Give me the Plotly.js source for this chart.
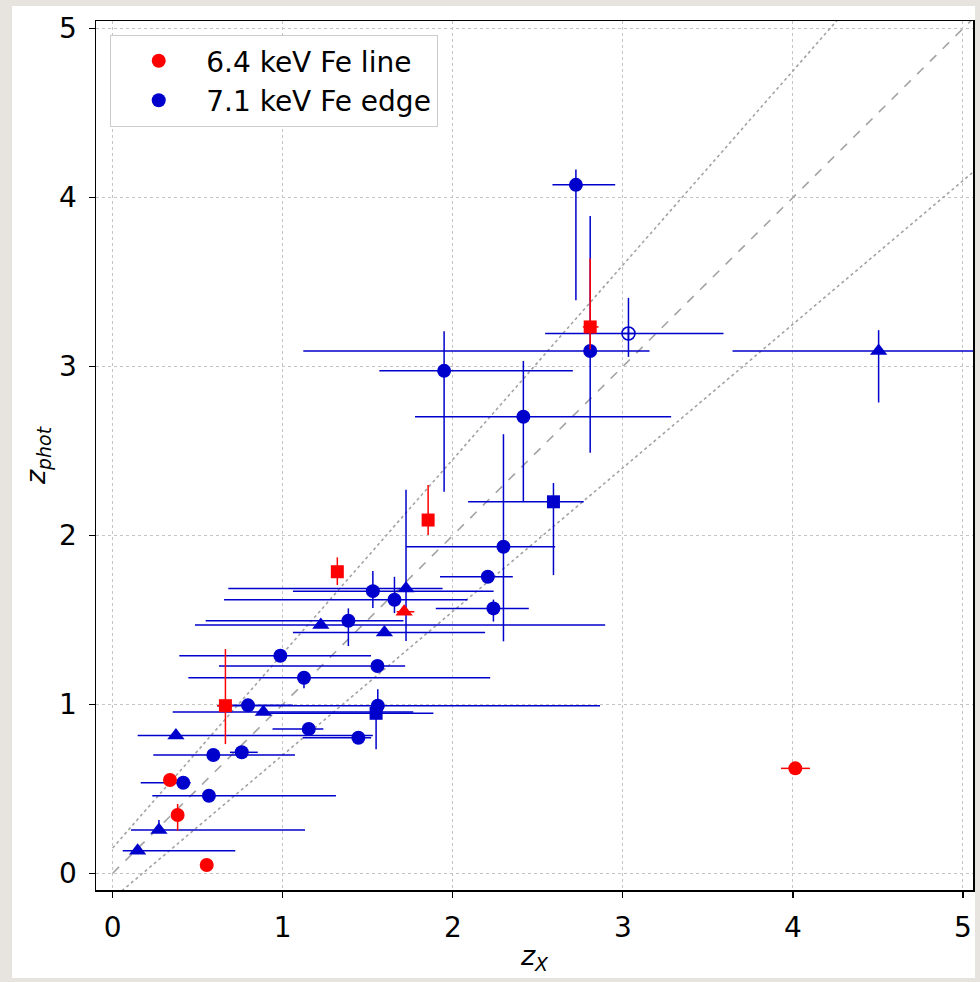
<!DOCTYPE html>
<html>
<head>
<meta charset="utf-8">
<script src="https://cdn.plot.ly/plotly-3.0.1.min.js"></script>
<style>
  html, body { margin:0; padding:0; width:980px; height:982px; background:#e7e4df; overflow:hidden; }
  #frame { position:absolute; left:12px; top:6px; width:963px; height:972px; background:#ffffff; }
  #chart { width:963px; height:972px; }
</style>
</head>
<body>
<div id="frame"><div id="chart"></div></div>
<script>
// ---------- Data ----------
// 6.4 keV Fe line (red)
var redCircX   = [0.337, 0.382, 0.553, 4.014];
var redCircY   = [0.552, 0.345, 0.049, 0.621];
var redCircXlo = [0.337, 0.382, 0.553, 3.930];
var redCircXhi = [0.337, 0.382, 0.553, 4.100];
var redCircYlo = [0.552, 0.252, 0.049, 0.621];
var redCircYhi = [0.552, 0.410, 0.049, 0.621];

var redSqX   = [0.663, 1.321, 1.855, 2.808];
var redSqY   = [0.992, 1.785, 2.091, 3.234];
var redSqXlo = [0.615, 1.321, 1.855, 2.765];
var redSqXhi = [0.706, 1.321, 1.855, 2.857];
var redSqYlo = [0.765, 1.706, 2.002, 3.100];
var redSqYhi = [1.327, 1.870, 2.298, 3.639];

var redTriX   = [1.714];
var redTriY   = [1.548];
var redTriXlo = [1.670];
var redTriXhi = [1.774];
var redTriYlo = [1.548];
var redTriYhi = [1.548];

// 7.1 keV Fe edge (blue)
var bluCircX   = [2.724, 1.949, 2.415, 2.808, 2.298, 2.206, 2.239, 1.530, 1.657, 1.386, 0.986, 1.557, 1.125, 0.796, 1.559, 1.153, 1.445, 0.592, 0.759, 0.415, 0.566];
var bluCircY   = [4.075, 2.974, 2.702, 3.092, 1.933, 1.755, 1.568, 1.670, 1.619, 1.495, 1.288, 1.227, 1.157, 0.994, 0.992, 0.854, 0.802, 0.700, 0.716, 0.536, 0.459];
var bluCircXlo = [2.586, 1.568, 1.778, 1.121, 1.725, 1.925, 1.900, 1.060, 0.655, 0.547, 0.392, 0.625, 0.445, 0.690, 0.615, 0.940, 1.118, 0.239, 0.690, 0.165, 0.233];
var bluCircXhi = [2.955, 2.706, 3.284, 3.157, 2.602, 2.353, 2.447, 2.240, 2.086, 1.710, 1.519, 1.720, 2.220, 1.060, 2.866, 1.239, 1.520, 1.072, 0.853, 0.459, 1.313];
var bluCircYlo = [3.392, 2.258, 2.203, 2.490, 1.373, 1.720, 1.490, 1.570, 1.540, 1.345, 1.288, 1.227, 1.095, 0.994, 0.950, 0.820, 0.802, 0.700, 0.716, 0.536, 0.459];
var bluCircYhi = [4.166, 3.209, 3.033, 3.890, 2.599, 1.790, 1.620, 1.790, 1.755, 1.568, 1.288, 1.227, 1.157, 0.994, 1.089, 0.854, 0.802, 0.700, 0.716, 0.536, 0.459];

var bluSqX   = [2.592, 1.549];
var bluSqY   = [2.199, 0.947];
var bluSqXlo = [2.090, 0.900];
var bluSqXhi = [2.770, 1.886];
var bluSqYlo = [1.765, 0.734];
var bluSqYhi = [2.310, 0.947];

var bluTriX   = [4.504, 1.725, 1.224, 1.598, 0.886, 0.372, 0.272, 0.147];
var bluTriY   = [3.092, 1.686, 1.469, 1.425, 0.955, 0.815, 0.256, 0.134];
var bluTriXlo = [3.645, 0.680, 0.484, 1.060, 0.353, 0.147, 0.108, 0.059];
var bluTriXhi = [5.600, 1.940, 2.896, 2.190, 1.768, 1.530, 1.131, 0.721];
var bluTriYlo = [2.787, 1.375, 1.469, 1.425, 0.955, 0.815, 0.256, 0.134];
var bluTriYhi = [3.215, 2.270, 1.469, 1.425, 0.955, 0.815, 0.315, 0.134];

var bluOpenX   = [3.033];
var bluOpenY   = [3.195];
var bluOpenXlo = [2.543];
var bluOpenXhi = [3.592];
var bluOpenYlo = [3.057];
var bluOpenYhi = [3.406];

// reference relations: z_phot = z_X, and |dz|/(1+z) = 0.15
var refLineX = [0, 5.2];
var outlierFrac = 0.15;

var seriesNames = ['6.4 keV Fe line', '7.1 keV Fe edge'];
var xTicks = [0, 1, 2, 3, 4, 5];
var yTicks = [0, 1, 2, 3, 4, 5];

// ---------- Build traces ----------
var RED = '#ff0000', BLUE = '#0000cc';
function mk(x, y, xlo, xhi, ylo, yhi, symbol, color, size, name, showleg, rank) {
  return {
    type: 'scatter', mode: 'markers', x: x, y: y,
    name: name || 'group', showlegend: !!showleg, legendrank: rank || 1000,
    marker: { symbol: symbol, color: color, size: size, line: { width: symbol.indexOf('open') >= 0 ? 1.6 : 0, color: color } },
    error_x: { type: 'data', symmetric: false, array: xhi.map(function (v, i) { return v - x[i]; }),
               arrayminus: x.map(function (v, i) { return v - xlo[i]; }), color: color, thickness: 1.5, width: 0 },
    error_y: { type: 'data', symmetric: false, array: yhi.map(function (v, i) { return v - y[i]; }),
               arrayminus: y.map(function (v, i) { return v - ylo[i]; }), color: color, thickness: 1.5, width: 0 },
    hoverinfo: 'x+y'
  };
}
function refLine(slope, off, dash) {
  return { type: 'scatter', mode: 'lines', x: refLineX, y: refLineX.map(function (v) { return slope * v + off; }),
           name: 'ref', line: { color: '#a3a3a3', width: 1.6, dash: dash }, showlegend: false, hoverinfo: 'skip' };
}

var data = [
  refLine(1, 0, 'dash'),
  refLine(1 + outlierFrac, outlierFrac, 'dot'),
  refLine(1 - outlierFrac, -outlierFrac, 'dot'),
  mk(bluCircX, bluCircY, bluCircXlo, bluCircXhi, bluCircYlo, bluCircYhi, 'circle', BLUE, 14, seriesNames[1], true, 2),
  mk(bluSqX, bluSqY, bluSqXlo, bluSqXhi, bluSqYlo, bluSqYhi, 'square', BLUE, 13),
  mk(bluTriX, bluTriY, bluTriXlo, bluTriXhi, bluTriYlo, bluTriYhi, 'triangle-up', BLUE, 15),
  mk(bluOpenX, bluOpenY, bluOpenXlo, bluOpenXhi, bluOpenYlo, bluOpenYhi, 'circle-cross-open', BLUE, 13),
  mk(redCircX, redCircY, redCircXlo, redCircXhi, redCircYlo, redCircYhi, 'circle', RED, 14, seriesNames[0], true, 1),
  mk(redSqX, redSqY, redSqXlo, redSqXhi, redSqYlo, redSqYhi, 'square', RED, 13),
  mk(redTriX, redTriY, redTriXlo, redTriXhi, redTriYlo, redTriYhi, 'triangle-up', RED, 15)
];

var axisCommon = {
  showline: true, mirror: true, linecolor: '#000', linewidth: 1.5,
  ticks: 'outside', ticklen: 6, tickwidth: 1.3, tickcolor: '#000',
  showgrid: true, gridcolor: '#c4c4c4', gridwidth: 1, griddash: 'dot',
  zeroline: false, tickfont: { family: 'DejaVu Sans', size: 28, color: '#000' },
  ticklabelstandoff: 6
};

var layout = {
  width: 963, height: 972,
  margin: { l: 84, r: 2, t: 15, b: 88 },
  paper_bgcolor: '#ffffff', plot_bgcolor: '#ffffff',
  font: { family: 'DejaVu Sans', color: '#000' },
  xaxis: Object.assign({}, axisCommon, {
    range: [-0.098, 5.059], tickvals: xTicks, ticktext: xTicks.map(String),
    title: { text: '<i>z</i><sub><i>X</i></sub>', font: { family: 'DejaVu Sans', size: 27, color: '#000' }, standoff: 3 }
  }),
  yaxis: Object.assign({}, axisCommon, {
    range: [-0.099, 5.045], tickvals: yTicks, ticktext: yTicks.map(String),
    title: { text: '<i>z</i><sub><i>phot</i></sub>', font: { family: 'DejaVu Sans', size: 27, color: '#000' }, standoff: 5 }
  }),
  showlegend: true,
  legend: {
    x: 0.016, y: 0.984, xanchor: 'left', yanchor: 'top',
    bgcolor: '#ffffff', bordercolor: '#cccccc', borderwidth: 1.2,
    font: { family: 'DejaVu Sans', size: 28, color: '#000' },
    itemwidth: 85, traceorder: 'normal', tracegroupgap: 0
  }
};

Plotly.newPlot('chart', data, layout, { displayModeBar: false, staticPlot: true });
</script>
</body>
</html>
